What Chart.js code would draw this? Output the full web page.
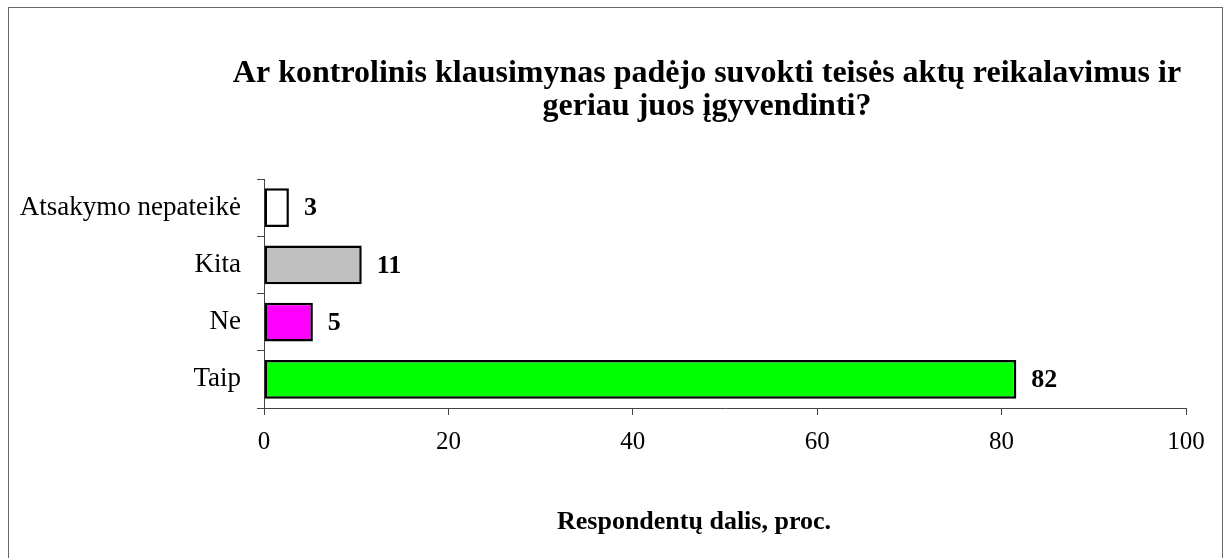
<!DOCTYPE html>
<html>
<head>
<meta charset="utf-8">
<script src="https://cdn.jsdelivr.net/npm/chart.js@4"></script>
<style>
  body { margin: 0; background: #fff; }
  #box {
    position: absolute; left: 8px; top: 7px;
    width: 1213px; height: 560px;
    border: 1px solid #666;
    background: #fff;
  }
</style>
</head>
<body>
<div id="box"><canvas id="chart" width="1213" height="560"></canvas></div>
<script>
// Data
var categories = ['Atsakymo nepateikė', 'Kita', 'Ne', 'Taip'];
var shares = [2.7, 10.6, 5.3, 81.6];   // respondents, percent
var barColors = ['#ffffff', '#c0c0c0', '#ff00ff', '#00ff00'];
var xTicks = [0, 20, 40, 60, 80, 100];

var titleLines = ['Ar kontrolinis klausimynas padėjo suvokti teisės aktų reikalavimus ir',
                  'geriau juos įgyvendinti?'];
var axisTitle = 'Respondentų dalis, proc.';

var serif = "'Liberation Serif', 'Times New Roman', serif";

// Title, axis title and value labels drawn on the canvas
var textPlugin = {
    id: 'texts',
    afterDatasetsDraw: function (chart) {
        var ctx = chart.ctx;
        ctx.save();
        ctx.fillStyle = '#000';
        // value labels next to each bar
        ctx.font = 'bold 26px ' + serif;
        ctx.textAlign = 'left';
        ctx.textBaseline = 'middle';
        chart.getDatasetMeta(0).data.forEach(function (bar, i) {
            ctx.fillText(String(Math.round(shares[i])), bar.x + 15, bar.y + 1);
        });
        // chart title
        ctx.font = 'bold 32px ' + serif;
        ctx.textAlign = 'center';
        ctx.textBaseline = 'alphabetic';
        ctx.fillText(titleLines[0], 698, 74);
        ctx.fillText(titleLines[1], 698, 107);
        // x axis title
        ctx.font = 'bold 26px ' + serif;
        ctx.fillText(axisTitle, 685, 521);
        ctx.restore();
    }
};

var ctx = document.getElementById('chart').getContext('2d');

var chart = new Chart(ctx, {
    type: 'bar',
    data: {
        labels: categories,
        datasets: [{
            data: shares,
            backgroundColor: barColors,
            borderColor: '#000',
            borderWidth: 2.5,
            borderSkipped: false,
            barPercentage: 0.68,
            categoryPercentage: 1
        }]
    },
    options: {
        indexAxis: 'y',
        responsive: false,
        animation: false,
        layout: { padding: { left: 0, right: 36, top: 171, bottom: 0 } },
        scales: {
            x: {
                min: 0,
                max: 100,
                afterBuildTicks: function (scale) {
                    scale.ticks = xTicks.map(function (v) { return { value: v }; });
                },
                afterFit: function (scale) { scale.height = 160; },
                grid: { drawOnChartArea: false, drawTicks: true, tickLength: 7, color: '#444' },
                border: { display: true, color: '#444', width: 1 },
                ticks: { color: '#000', padding: 12, font: { family: serif, size: 25 } }
            },
            y: {
                afterFit: function (scale) { scale.width = 255; },
                grid: { drawOnChartArea: false, drawTicks: true, tickLength: 7, color: '#444', offset: true },
                border: { display: true, color: '#444', width: 1 },
                ticks: { color: '#000', padding: 16, font: { family: serif, size: 27 } }
            }
        },
        plugins: {
            legend: { display: false },
            tooltip: { enabled: false }
        }
    },
    plugins: [textPlugin]
});
</script>
</body>
</html>
